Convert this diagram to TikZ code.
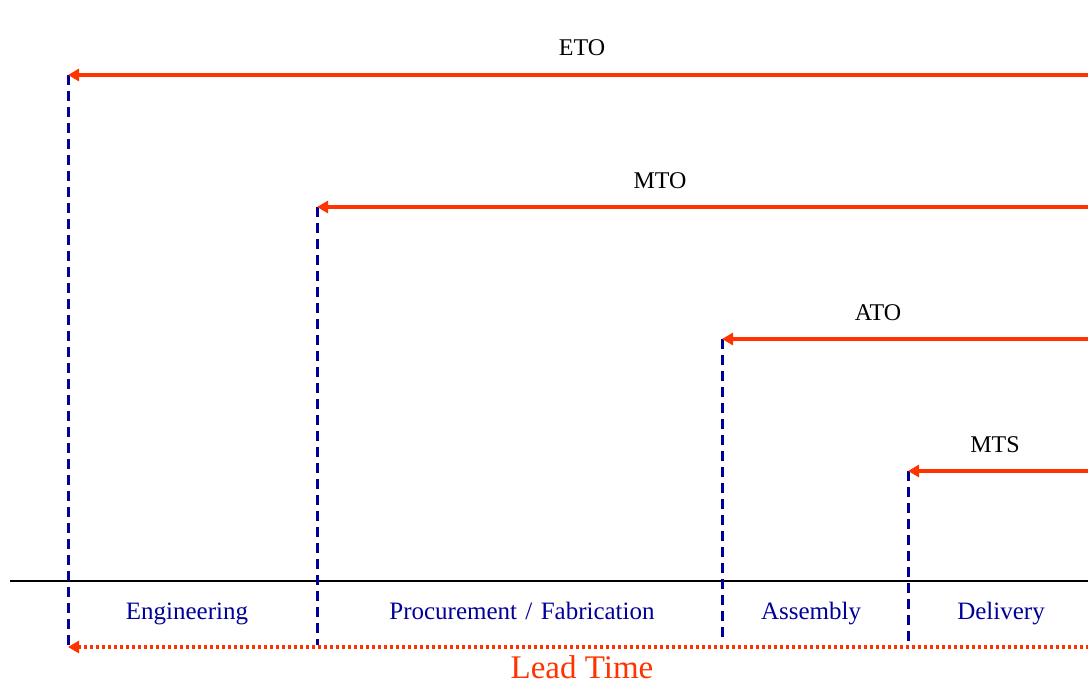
\documentclass[tikz,border=0pt]{standalone}
\usepackage{fontspec}
\setmainfont{Liberation Serif}
\usetikzlibrary{arrows.meta}
\definecolor{leadred}{HTML}{FF3300}
\definecolor{phaseblue}{HTML}{000099}
\begin{document}
\begin{tikzpicture}[x=1pt,y=-1pt,
  typelabel/.style={font=\fontsize{24}{28}\selectfont, text=black, inner sep=0pt, anchor=base},
  phaselabel/.style={font=\fontsize{25}{28}\selectfont, text=phaseblue, inner sep=0pt, anchor=base},
  typearrow/.style={draw=leadred, line width=3.2pt, -{Triangle[length=11pt,width=12pt]}},
  phaseline/.style={draw=phaseblue, line width=3pt, dash pattern=on 10pt off 6pt},
  leadarrow/.style={draw=leadred, line width=3.4pt, dash pattern=on 3pt off 3pt, {Triangle[length=11pt,width=12pt]}-{Triangle[length=11pt,width=12pt]}},
  baseline/.style={draw=black, line width=2.2pt}]
\useasboundingbox (0,0) rectangle (1088,681);
\clip (0,0) rectangle (1088,681);
% coordinates
\coordinate (etoL) at (68,75);   \coordinate (etoR) at (1100,75);
\coordinate (mtoL) at (317,207); \coordinate (mtoR) at (1100,207);
\coordinate (atoL) at (722,339); \coordinate (atoR) at (1100,339);
\coordinate (mtsL) at (908,471); \coordinate (mtsR) at (1100,471);
\coordinate (baseL) at (10,581); \coordinate (baseR) at (1100,581);
\coordinate (etoB) at (68,647);
\coordinate (mtoB) at (317,645);
\coordinate (atoB) at (722,641);
\coordinate (mtsB) at (908,647);
\coordinate (leadL) at (68,647); \coordinate (leadR) at (1100,647);
% baseline
\draw[baseline] (baseL) -- (baseR);
% dashed verticals
\draw[phaseline] (etoL) -- (etoB);
\draw[phaseline] (mtoL) -- (mtoB);
\draw[phaseline] (atoL) -- (atoB);
\draw[phaseline] (mtsL) -- (mtsB);
% arrows
\draw[typearrow] (etoR) -- (etoL);
\draw[typearrow] (mtoR) -- (mtoL);
\draw[typearrow] (atoR) -- (atoL);
\draw[typearrow] (mtsR) -- (mtsL);
\draw[leadarrow] (leadL) -- (leadR);
% labels
\node[typelabel] (eto) at (582,55) {ETO};
\node[typelabel] (mto) at (660,188) {MTO};
\node[typelabel] (ato) at (878,320) {ATO};
\node[typelabel] (mts) at (995,452) {MTS};
\node[phaselabel] (eng) at (187,619) {Engineering};
\node[phaselabel] (proc) at (522,619) {Procurement\,\,/\,\,Fabrication};
\node[phaselabel] (asm) at (811,619) {Assembly};
\node[phaselabel] (del) at (1001,619) {Delivery};
\node[font=\fontsize{33}{36}\selectfont, text=leadred, inner sep=0pt, anchor=base] (lead) at (582,678) {Lead Time};
\end{tikzpicture}
\end{document}
